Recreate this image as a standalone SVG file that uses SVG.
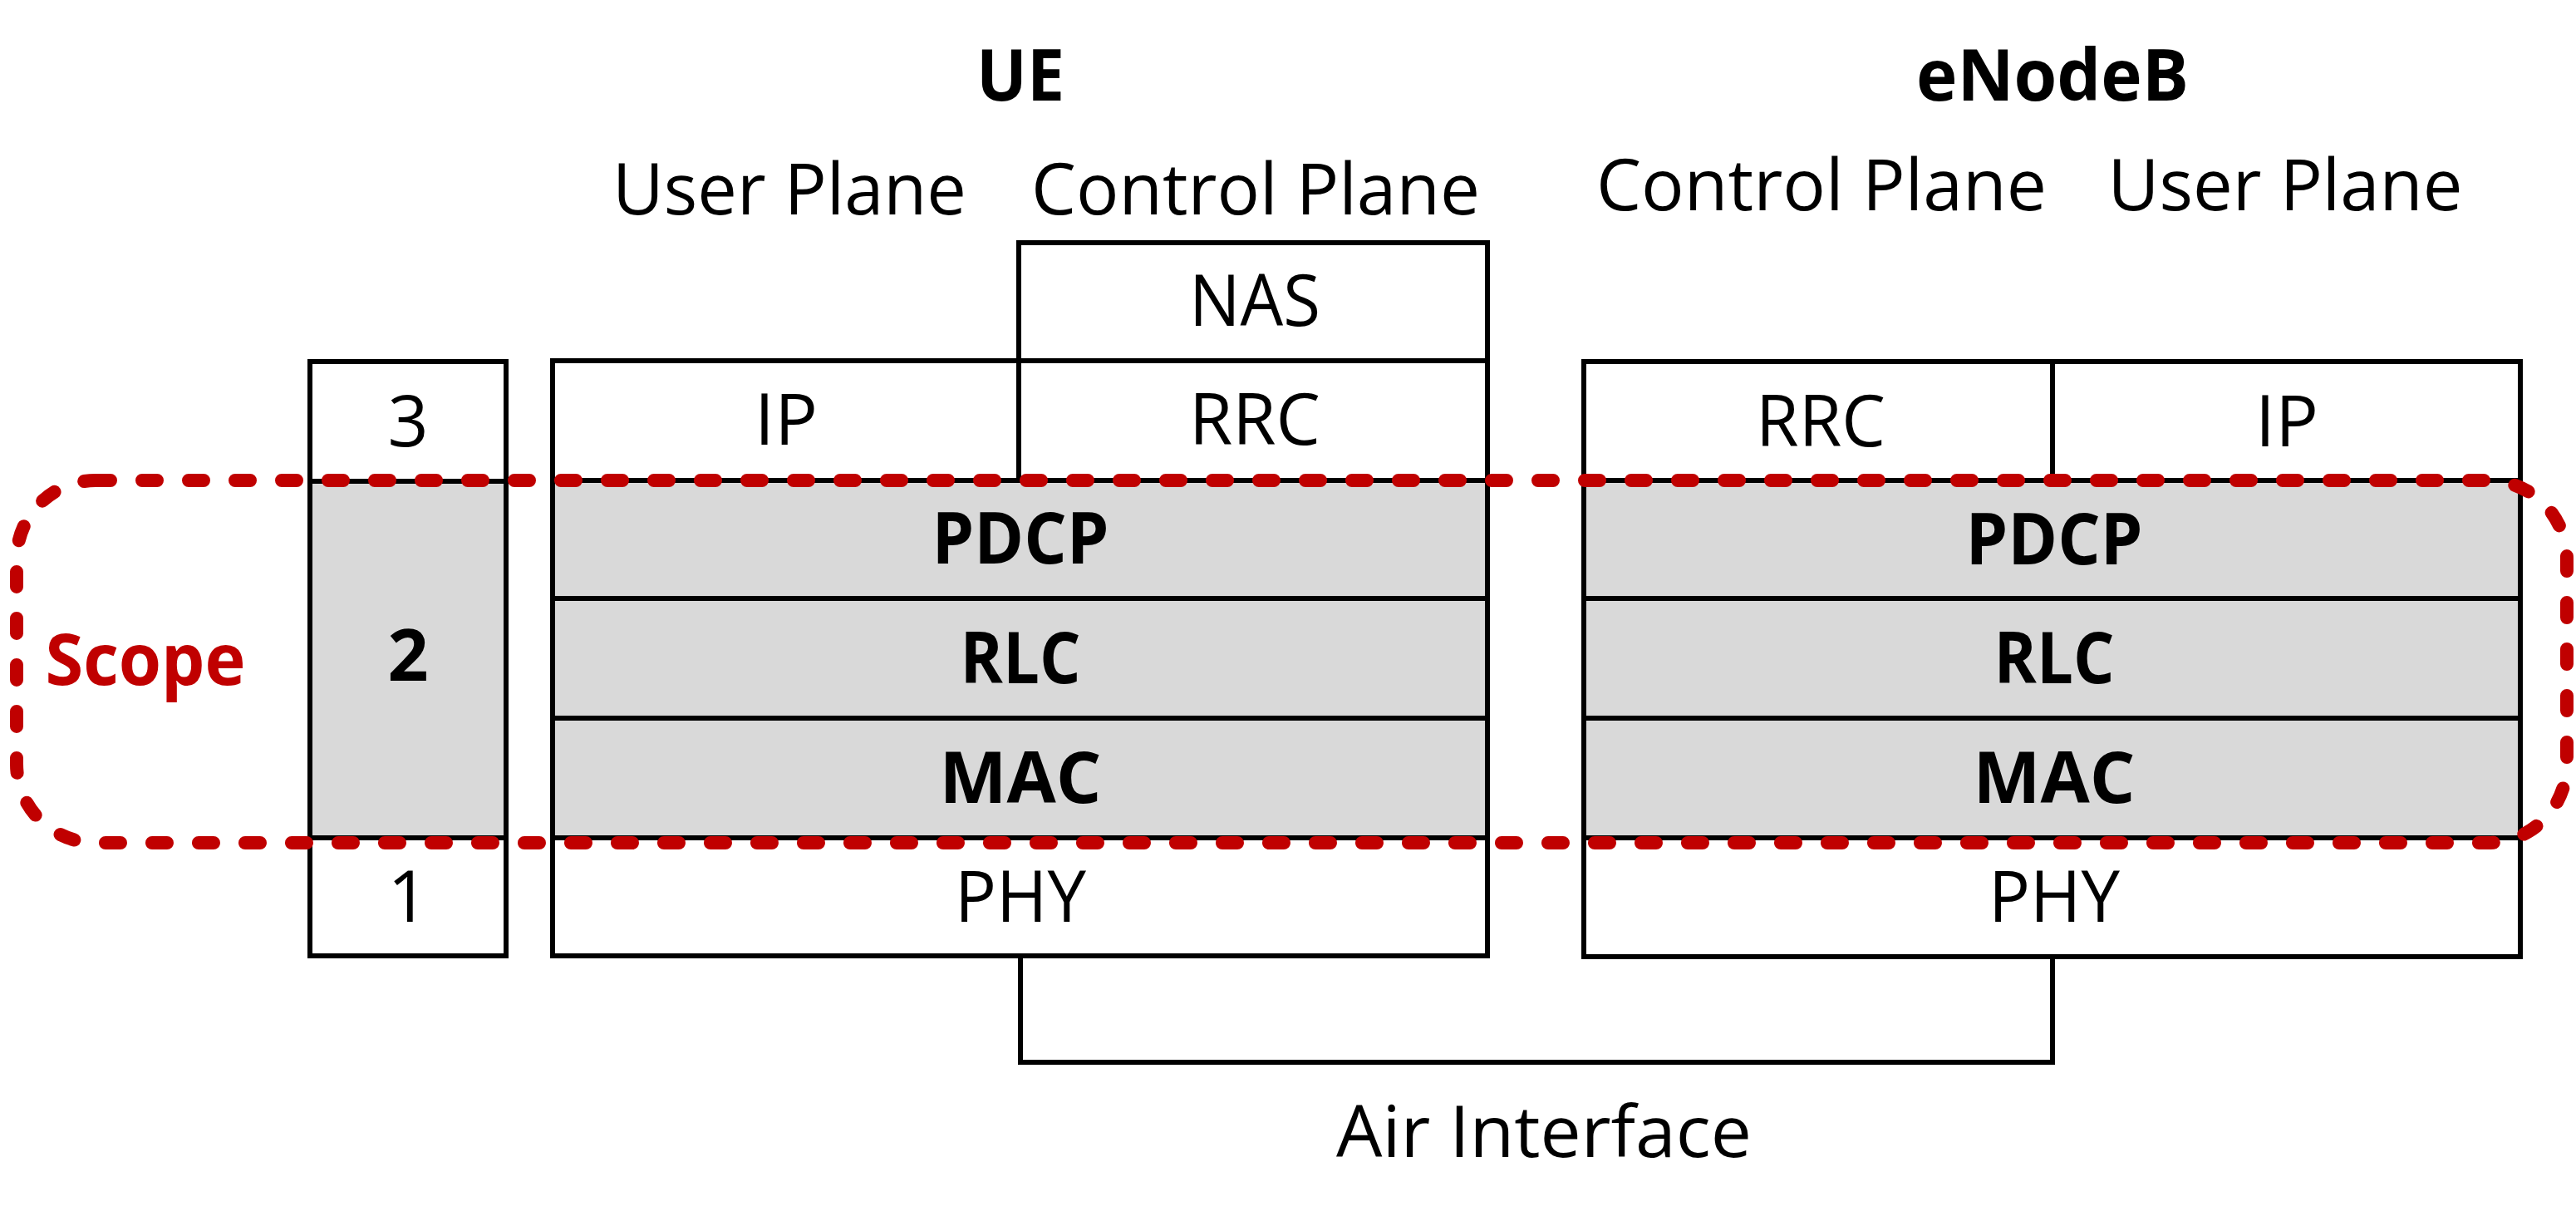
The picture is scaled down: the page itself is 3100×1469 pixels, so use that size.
<svg xmlns="http://www.w3.org/2000/svg" width="3100" height="1469" viewBox="0 0 3100 1469">
<style>
.bx{fill:#FFFFFF;stroke:#000000;stroke-width:6}
.gy{fill:#D9D9D9;stroke:#000000;stroke-width:6}
.ln{fill:none;stroke:#000000;stroke-width:6}
.t{font-family:"Open Sans","Noto Sans","Liberation Sans",sans-serif;font-size:86px;fill:#000000;text-anchor:middle}
.b{font-weight:700;font-size:86px}
.red{fill:#C00000}
.scope{fill:none;stroke:#C00000;stroke-width:16;stroke-linecap:round;stroke-dasharray:18 38}
</style>
<rect width="3100" height="1469" fill="#FFFFFF"/>

<g id="headers">
<text class="t b" x="1228" y="121" textLength="106" lengthAdjust="spacingAndGlyphs">UE</text>
<text class="t" x="950" y="258" textLength="426" lengthAdjust="spacingAndGlyphs">User Plane</text>
<text class="t" x="1511" y="258" textLength="540" lengthAdjust="spacingAndGlyphs">Control Plane</text>
<text class="t b" x="2470" y="121" textLength="328" lengthAdjust="spacingAndGlyphs">eNodeB</text>
<text class="t" x="2192" y="253" textLength="542" lengthAdjust="spacingAndGlyphs">Control Plane</text>
<text class="t" x="2750" y="253" textLength="427" lengthAdjust="spacingAndGlyphs">User Plane</text>
</g>

<g id="layer-numbers">
<g id="layer-3"><rect class="bx" x="373" y="435" width="236" height="144"/><text class="t" x="491" y="537">3</text></g>
<g id="layer-2"><rect class="gy" x="373" y="579" width="236" height="429"/><text class="t b" x="491" y="819">2</text></g>
<g id="layer-1"><rect class="bx" x="373" y="1008" width="236" height="142"/><text class="t" x="491" y="1109">1</text></g>
</g>

<g id="ue">
<g id="ue-nas"><rect class="bx" x="1226" y="292" width="564" height="142"/><text class="t" x="1510" y="392" textLength="158" lengthAdjust="spacingAndGlyphs">NAS</text></g>
<g id="ue-ip"><rect class="bx" x="665" y="434" width="561" height="144"/><text class="t" x="946" y="535">IP</text></g>
<g id="ue-rrc"><rect class="bx" x="1226" y="434" width="564" height="144"/><text class="t" x="1510" y="535" textLength="158" lengthAdjust="spacingAndGlyphs">RRC</text></g>
<g id="ue-pdcp"><rect class="gy" x="665" y="578" width="1125" height="142"/><text class="t b" x="1228" y="678" textLength="213" lengthAdjust="spacingAndGlyphs">PDCP</text></g>
<g id="ue-rlc"><rect class="gy" x="665" y="720" width="1125" height="144"/><text class="t b" x="1228" y="822" textLength="145" lengthAdjust="spacingAndGlyphs">RLC</text></g>
<g id="ue-mac"><rect class="gy" x="665" y="864" width="1125" height="144"/><text class="t b" x="1228" y="966" textLength="195" lengthAdjust="spacingAndGlyphs">MAC</text></g>
<g id="ue-phy"><rect class="bx" x="665" y="1008" width="1125" height="142"/><text class="t" x="1228" y="1109" textLength="158" lengthAdjust="spacingAndGlyphs">PHY</text></g>
</g>

<g id="enodeb">
<g id="enb-rrc"><rect class="bx" x="1906" y="435" width="564" height="143"/><text class="t" x="2191" y="537" textLength="156" lengthAdjust="spacingAndGlyphs">RRC</text></g>
<g id="enb-ip"><rect class="bx" x="2470" y="435" width="563" height="143"/><text class="t" x="2752" y="537">IP</text></g>
<g id="enb-pdcp"><rect class="gy" x="1906" y="578" width="1127" height="142"/><text class="t b" x="2472" y="679" textLength="213" lengthAdjust="spacingAndGlyphs">PDCP</text></g>
<g id="enb-rlc"><rect class="gy" x="1906" y="720" width="1127" height="144"/><text class="t b" x="2472" y="822" textLength="145" lengthAdjust="spacingAndGlyphs">RLC</text></g>
<g id="enb-mac"><rect class="gy" x="1906" y="864" width="1127" height="144"/><text class="t b" x="2472" y="966" textLength="195" lengthAdjust="spacingAndGlyphs">MAC</text></g>
<g id="enb-phy"><rect class="bx" x="1906" y="1008" width="1127" height="143"/><text class="t" x="2472" y="1109" textLength="158" lengthAdjust="spacingAndGlyphs">PHY</text></g>
</g>

<g id="connectors">
<path class="ln" d="M1228 1150 V1278 H2470 V1151"/>
</g>
<g id="air-interface-label">
<text class="t" x="1858" y="1392" textLength="500" lengthAdjust="spacingAndGlyphs">Air Interface</text>
</g>

<g id="scope">
<rect class="scope" x="20" y="578" width="3069" height="436" rx="95" ry="95"/>
<text class="t b red" x="175" y="824" textLength="241" lengthAdjust="spacingAndGlyphs">Scope</text>
</g>
</svg>
